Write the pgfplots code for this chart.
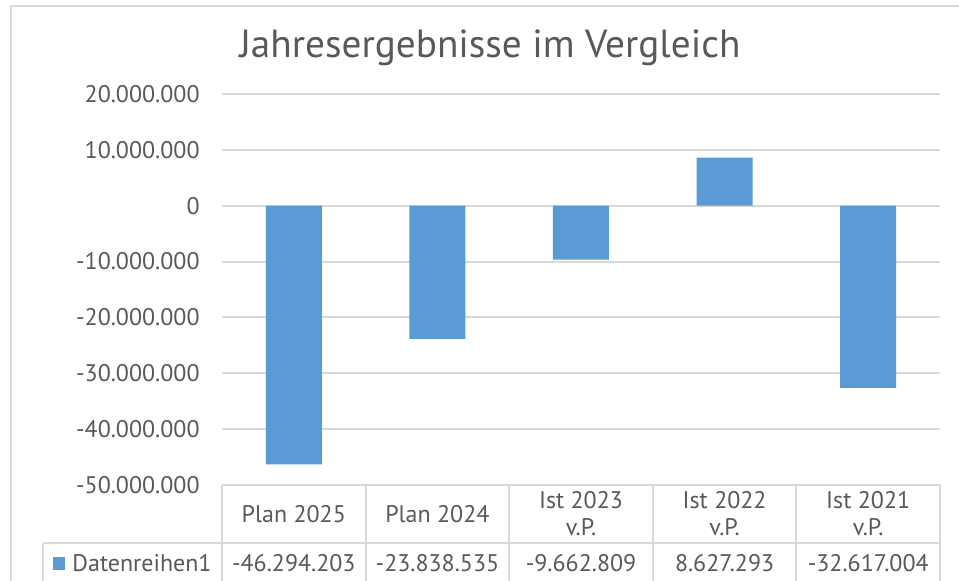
\documentclass[border=0pt]{standalone}
\usepackage{fontspec}
\setmainfont{PT Sans}
\usepackage{pgfplots}
\pgfplotsset{compat=1.18}
\definecolor{barblue}{HTML}{5B9BD5}
\definecolor{txt}{HTML}{595959}
\definecolor{rule}{HTML}{D9D9D9}

\begin{document}
\begin{tikzpicture}[x=0.5pt,y=0.5pt]
% canvas in pixel units of the reference (origin bottom left)
\clip (0,0) rectangle (959,581);
\fill[white] (0,0) rectangle (959,581);
\draw[rule, line width=1.2pt] (11,-20) rectangle (990,575);
\node[txt, font=\fontsize{19.6}{22}\selectfont] at (490,533) {Jahresergebnisse im Vergleich};

\begin{axis}[
  at={(111pt,48pt)}, anchor=south west,
  scale only axis, width=359pt, height=195.5pt,
  xmin=-0.5, xmax=4.5,
  ymin=-50000000, ymax=20000000,
  ytick={-50000000,-40000000,-30000000,-20000000,-10000000,0,10000000,20000000},
  yticklabels={-50.000.000,-40.000.000,-30.000.000,-20.000.000,-10.000.000,0,10.000.000,20.000.000},
  scaled y ticks=false,
  xtick={0,1,2,3,4},
  xticklabels={Plan 2025,Plan 2024,{Ist 2023\\v.P.},{Ist 2022\\v.P.},{Ist 2021\\v.P.}},
  xticklabel style={align=center, anchor=center, yshift=-14.5pt, font=\fontsize{12}{13.5}\selectfont, text=txt},
  yticklabel style={font=\fontsize{12}{14}\selectfont, text=txt, inner sep=0pt, xshift=-11pt},
  major tick length=0pt,
  axis line style={draw=none},
  ymajorgrids,
  major grid style={rule, line width=1pt},
  clip=false,
]
\addplot[ybar, bar width=28pt, fill=barblue, draw=none]
  coordinates {(0,-46294203) (1,-23838535) (2,-9662809) (3,8627293) (4,-32617004)};
\end{axis}

% data table rules
\draw[rule, line width=1pt] (43,38) -- (940,38);
\foreach \x in {222,365.6,509.2,652.8,796.4,940}
  \draw[rule, line width=1pt] (\x,96) -- (\x,-5);
\draw[rule, line width=1pt] (43,38) -- (43,-5);

% legend key and values row
\fill[barblue] (53,11) rectangle (65,24);
\begin{scope}[every node/.style={txt, font=\fontsize{12}{14}\selectfont}]
\node[anchor=west, inner sep=0pt] at (72,18) {Datenreihen1};
\node at (293.8,18) {-46.294.203};
\node at (437.4,18) {-23.838.535};
\node at (581.0,18) {-9.662.809};
\node at (724.6,18) {8.627.293};
\node at (868.2,18) {-32.617.004};
\end{scope}
\end{tikzpicture}
\end{document}
